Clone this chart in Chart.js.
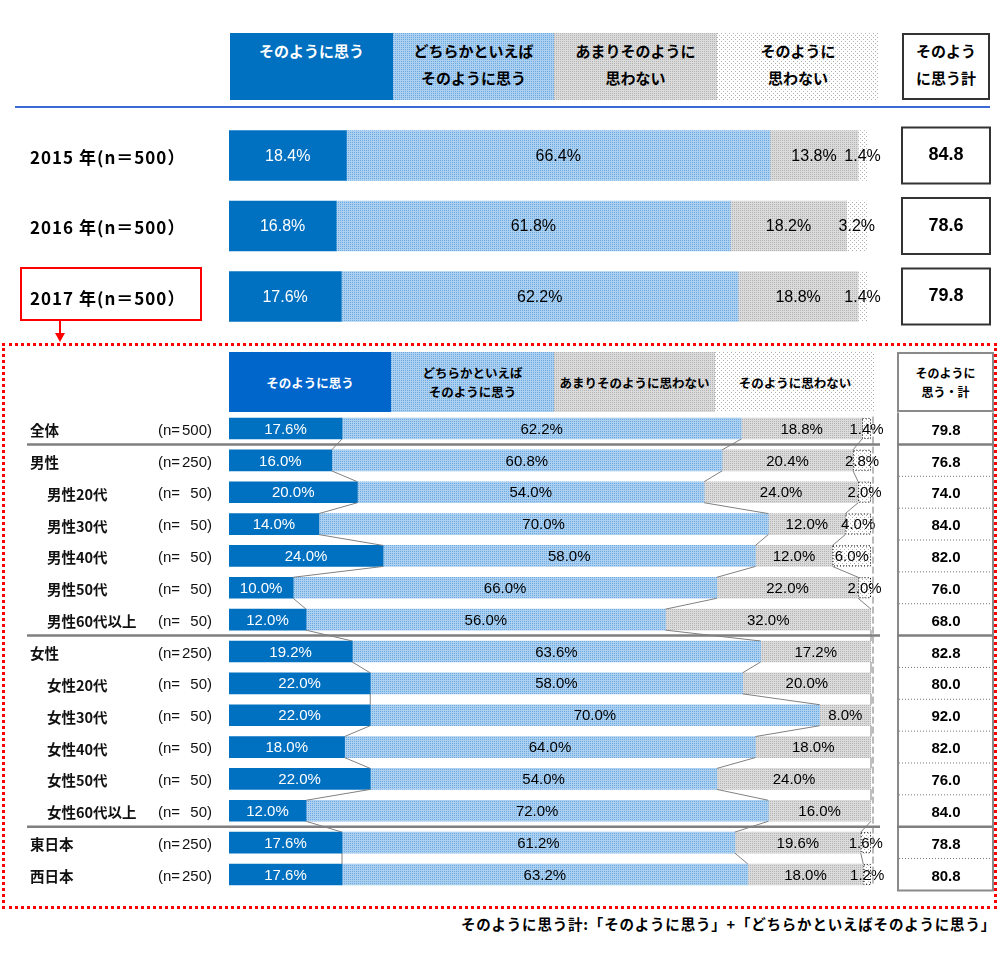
<!DOCTYPE html>
<html lang="ja">
<head>
<meta charset="utf-8">
<script src="https://cdn.jsdelivr.net/npm/chart.js@4.4.1/dist/chart.umd.min.js"></script>
<style>
  body { margin: 0; background: #fff; }
  #page { position: relative; width: 1000px; height: 959px; overflow: hidden;
          font-family: "Noto Sans CJK JP", "Noto Sans", sans-serif; color: #000; }
  #page canvas { position: absolute; left: 0; }
  .box { position: absolute; box-sizing: border-box; text-align: center; font-weight: bold; }
  .top-hd { top: 33px; height: 67px; font-size: 15px; line-height: 27px; padding-top: 4px; }
  .btm-hd { top: 352px; height: 60px; font-size: 12.5px; line-height: 19px;
            display: flex; align-items: center; justify-content: center; }
  .red { position: absolute; background: #f00; }
</style>
</head>
<body>
<div id="page">
  <!-- top legend boxes -->
  <div class="box top-hd" style="left:230px;width:163px;color:#fff;background:#0070C0">そのように思う</div>
  <div class="box top-hd" data-pat="light" style="left:393px;width:161px">どちらかといえば<br>そのように思う</div>
  <div class="box top-hd" data-pat="gray" style="left:554px;width:163px">あまりそのように<br>思わない</div>
  <div class="box top-hd" data-pat="white" style="left:717px;width:162px">そのように<br>思わない</div>
  <div class="box top-hd" style="left:902px;width:88px;border:2px solid #333;padding-top:2px">そのよう<br>に思う計</div>
  <div style="position:absolute;left:15px;top:106px;width:975px;height:2px;background:#3A6AD6"></div>

  <canvas id="topChart" width="1000" height="232" style="top:110px"></canvas>

  <!-- 2017 highlight + arrow -->
  <div style="position:absolute;left:20px;top:267px;width:182px;height:54px;box-sizing:border-box;border:2px solid #f00"></div>
  <div class="red" style="left:59px;top:321px;width:2px;height:13px"></div>
  <div style="position:absolute;left:55px;top:333px;width:0;height:0;border-left:5px solid transparent;border-right:5px solid transparent;border-top:9px solid #f00"></div>
  <div style="position:absolute;left:2px;top:343px;width:995px;height:566px;box-sizing:border-box;border:3px dotted #f00"></div>

  <!-- detail legend boxes -->
  <div class="box btm-hd" style="left:229px;width:162px;color:#fff;background:#0066CC">そのように思う</div>
  <div class="box btm-hd" data-pat="light" style="left:391px;width:163px">どちらかといえば<br>そのように思う</div>
  <div class="box btm-hd" data-pat="gray" style="left:554px;width:161px">あまりそのように思わない</div>
  <div class="box btm-hd" data-pat="white" style="left:715px;width:160px">そのように思わない</div>
  <div class="box btm-hd" style="left:897px;width:97px;border:2px solid #8A8A8A;font-size:12px">そのように<br>思う・計</div>

  <canvas id="detailChart" width="1000" height="560" style="top:345px"></canvas>

  <div style="position:absolute;right:4px;top:913px;font-size:14.5px;font-weight:bold;letter-spacing:0.8px">そのように思う計:「そのように思う」+「どちらかといえばそのように思う」</div>
</div>

<script>
// Top section (yearly)
const topYears = ['2015 年(n＝500）', '2016 年(n＝500）', '2017 年(n＝500）'];
const topThink = [18.4, 16.8, 17.6];
const topSomewhat = [66.4, 61.8, 62.2];
const topNotMuch = [13.8, 18.2, 18.8];
const topNotAtAll = [1.4, 3.2, 1.4];
const topTotals = ['84.8', '78.6', '79.8'];

// Detail section (2017 breakdown)
const groups = ['全体', '男性', '男性20代', '男性30代', '男性40代', '男性50代', '男性60代以上',
                '女性', '女性20代', '女性30代', '女性40代', '女性50代', '女性60代以上', '東日本', '西日本'];
const groupN = [500, 250, 50, 50, 50, 50, 50, 250, 50, 50, 50, 50, 50, 250, 250];
const think = [17.6, 16.0, 20.0, 14.0, 24.0, 10.0, 12.0, 19.2, 22.0, 22.0, 18.0, 22.0, 12.0, 17.6, 17.6];
const somewhat = [62.2, 60.8, 54.0, 70.0, 58.0, 66.0, 56.0, 63.6, 58.0, 70.0, 64.0, 54.0, 72.0, 61.2, 63.2];
const notMuch = [18.8, 20.4, 24.0, 12.0, 12.0, 22.0, 32.0, 17.2, 20.0, 8.0, 18.0, 24.0, 16.0, 19.6, 18.0];
const notAtAll = [1.4, 2.8, 2.0, 4.0, 6.0, 2.0, 0, 0, 0, 0, 0, 0, 0, 1.6, 1.2];
const totals = ['79.8', '76.8', '74.0', '84.0', '82.0', '76.0', '68.0',
                '82.8', '80.0', '92.0', '82.0', '76.0', '84.0', '78.8', '80.8'];
const groupBreaks = [0, 6, 12];

// dotted fill tiles
function makeTile(size, bg, dot, pts) {
    const c = document.createElement('canvas');
    c.width = c.height = size;
    const g = c.getContext('2d');
    g.fillStyle = bg;
    g.fillRect(0, 0, size, size);
    g.fillStyle = dot;
    pts.forEach(p => g.fillRect(p[0], p[1], 1, 1));
    return c;
}
const tiles = {
    light: makeTile(2, '#ABD0F0', '#6DA8E0', [[0, 0]]),
    gray: makeTile(2, '#DBDBDB', '#B3B3B3', [[0, 0]]),
    white: makeTile(4, '#ffffff', '#B0B0B0', [[0, 0], [2, 2]])
};
document.querySelectorAll('[data-pat]').forEach(el => {
    el.style.backgroundImage = 'url(' + tiles[el.dataset.pat].toDataURL() + ')';
});
const pattern = name => ctx => ctx.chart.ctx.createPattern(tiles[name], 'repeat');

function makeDatasets(a, b, c, d, thickness) {
    return [
        { data: a, backgroundColor: '#0070C0', barThickness: thickness },
        { data: b, backgroundColor: pattern('light'), barThickness: thickness },
        { data: c, backgroundColor: pattern('gray'), barThickness: thickness },
        { data: d, backgroundColor: pattern('white'), barThickness: thickness }
    ];
}

// percentage labels inside each segment
const valueLabels = {
    id: 'valueLabels',
    afterDatasetsDraw(chart, args, opts) {
        const ctx = chart.ctx;
        ctx.save();
        ctx.font = opts.font;
        ctx.textAlign = 'center';
        ctx.textBaseline = 'middle';
        chart.data.datasets.forEach((ds, di) => {
            chart.getDatasetMeta(di).data.forEach((bar, i) => {
                const v = ds.data[i];
                if (!v) return;
                ctx.fillStyle = di === 0 ? '#fff' : '#000';
                ctx.fillText(v.toFixed(1) + '%', (bar.x + bar.base) / 2, bar.y + 1);
            });
        });
        ctx.restore();
    }
};

const topSides = {
    id: 'topSides',
    afterDraw(chart) {
        const ctx = chart.ctx;
        const y = chart.scales.y;
        ctx.save();
        topYears.forEach((label, i) => {
            const cy = y.getPixelForValue(i);
            ctx.fillStyle = '#000';
            ctx.textBaseline = 'middle';
            ctx.textAlign = 'left';
            ctx.font = 'bold 17px "Noto Sans CJK JP"';
            ctx.letterSpacing = '1px';
            ctx.fillText(label, 30, cy + 2);
            ctx.letterSpacing = '0px';
            ctx.lineWidth = 2;
            ctx.strokeStyle = '#333';
            ctx.strokeRect(902, cy - 28, 88, 56);
            ctx.textAlign = 'center';
            ctx.font = 'bold 18px "Liberation Sans"';
            ctx.fillText(topTotals[i], 946, cy);
        });
        ctx.restore();
    }
};

const detailSides = {
    id: 'detailSides',
    afterDatasetsDraw(chart) {
        const ctx = chart.ctx;
        const y = chart.scales.y;
        const x = chart.scales.x;
        const area = chart.chartArea;
        const step = y.getPixelForValue(1) - y.getPixelForValue(0);
        const n = groups.length;
        ctx.save();

        // series lines joining segment boundaries of neighbouring rows
        ctx.strokeStyle = '#808080';
        ctx.lineWidth = 1;
        for (let k = 0; k < 3; k++) {
            const bars = chart.getDatasetMeta(k).data;
            for (let i = 0; i < n - 1; i++) {
                const a = bars[i], b = bars[i + 1];
                ctx.beginPath();
                ctx.moveTo(a.x, a.y + a.height / 2);
                ctx.lineTo(b.x, b.y - b.height / 2);
                ctx.stroke();
            }
        }

        // dotted outline on the smallest segments
        ctx.strokeStyle = '#000';
        ctx.setLineDash([1, 2]);
        chart.getDatasetMeta(3).data.forEach((bar, i) => {
            if (!notAtAll[i]) return;
            ctx.strokeRect(bar.base + 0.5, bar.y - bar.height / 2 + 0.5, bar.x - bar.base - 1, bar.height - 1);
        });

        // dashed 100% line
        ctx.strokeStyle = '#777';
        ctx.setLineDash([7, 3]);
        const xEnd = x.getPixelForValue(100) + 2;
        ctx.beginPath();
        ctx.moveTo(xEnd, area.top + 4);
        ctx.lineTo(xEnd, area.bottom - 4);
        ctx.stroke();
        ctx.setLineDash([]);

        // totals column
        ctx.strokeStyle = '#8A8A8A';
        ctx.lineWidth = 2;
        ctx.beginPath();
        ctx.moveTo(898, area.top); ctx.lineTo(898, area.bottom);
        ctx.moveTo(993, area.top); ctx.lineTo(993, area.bottom);
        ctx.moveTo(897, area.bottom); ctx.lineTo(994, area.bottom);
        ctx.stroke();
        for (let i = 0; i < n - 1; i++) {
            const by = y.getPixelForValue(i) + step / 2;
            if (groupBreaks.includes(i)) {
                ctx.strokeStyle = '#7F7F7F';
                ctx.lineWidth = 2.5;
                ctx.beginPath();
                ctx.moveTo(27, by); ctx.lineTo(880, by);
                ctx.moveTo(897, by); ctx.lineTo(994, by);
                ctx.stroke();
            } else {
                ctx.strokeStyle = '#777';
                ctx.lineWidth = 1;
                ctx.setLineDash([1, 2]);
                ctx.beginPath();
                ctx.moveTo(899, by); ctx.lineTo(992, by);
                ctx.stroke();
                ctx.setLineDash([]);
            }
        }

        // row texts
        ctx.textBaseline = 'middle';
        groups.forEach((label, i) => {
            const cy = y.getPixelForValue(i) + 2;
            ctx.fillStyle = '#111';
            ctx.textAlign = 'left';
            ctx.font = 'bold 14.5px "Noto Sans CJK JP"';
            ctx.fillText(label, /\d/.test(label) ? 47 : 30, cy);
            ctx.font = '15px "Liberation Sans"';
            ctx.fillText('(n=', 158, cy);
            ctx.textAlign = 'right';
            ctx.fillText(groupN[i] + ')', 212, cy);
            ctx.textAlign = 'center';
            ctx.fillStyle = '#000';
            ctx.font = 'bold 15px "Liberation Sans"';
            ctx.fillText(totals[i], 946, cy);
        });
        ctx.restore();
    }
};

function barOptions(padding, labelFont) {
    return {
        indexAxis: 'y',
        responsive: false,
        animation: false,
        layout: { padding: padding },
        scales: {
            x: { stacked: true, min: 0, max: 100, display: false },
            y: { stacked: true, display: false }
        },
        plugins: {
            legend: { display: false },
            tooltip: { enabled: false },
            valueLabels: { font: labelFont }
        }
    };
}

new Chart(document.getElementById('topChart'), {
    type: 'bar',
    data: {
        labels: topYears,
        datasets: makeDatasets(topThink, topSomewhat, topNotMuch, topNotAtAll, 50)
    },
    options: barOptions({ left: 229, right: 133, top: 10.25, bottom: 10.25 }, '16px "Liberation Sans"'),
    plugins: [valueLabels, topSides]
});

new Chart(document.getElementById('detailChart'), {
    type: 'bar',
    data: {
        labels: groups,
        datasets: makeDatasets(think, somewhat, notMuch, notAtAll, 21)
    },
    options: barOptions({ left: 229, right: 129, top: 67.6, bottom: 14.6 }, '15px "Liberation Sans"'),
    plugins: [valueLabels, detailSides]
});
</script>
</body>
</html>
